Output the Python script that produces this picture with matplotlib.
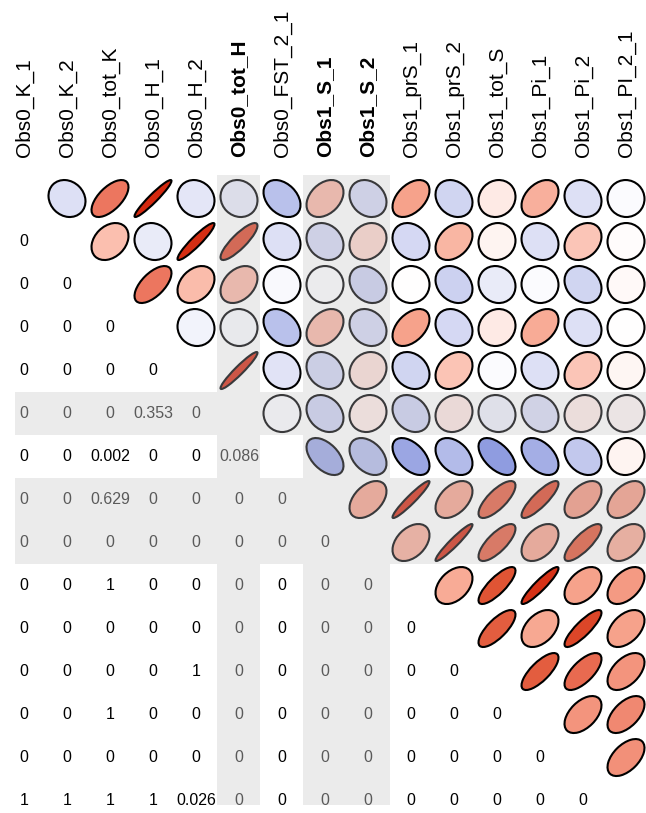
import numpy as np
import matplotlib
matplotlib.use('Agg')
import matplotlib.pyplot as plt
from matplotlib.patches import Ellipse, Rectangle
from matplotlib.colors import LinearSegmentedColormap, to_rgb

labels = ['Obs0_K_1', 'Obs0_K_2', 'Obs0_tot_K', 'Obs0_H_1', 'Obs0_H_2', 'Obs0_tot_H',
          'Obs0_FST_2_1', 'Obs1_S_1', 'Obs1_S_2', 'Obs1_prS_1', 'Obs1_prS_2',
          'Obs1_tot_S', 'Obs1_Pi_1', 'Obs1_Pi_2', 'Obs1_PI_2_1']
highlight = ['Obs0_tot_H', 'Obs1_S_1', 'Obs1_S_2']

# correlations above the diagonal: row i against columns i+1 ... end
corr_upper = [
    [-0.15, 0.62, 0.95, -0.12, -0.10, -0.35, 0.35, -0.20, 0.45, -0.22, 0.10, 0.38, -0.15, -0.02],
    [0.30, -0.10, 0.93, 0.85, -0.15, -0.20, 0.20, -0.20, 0.35, 0.05, -0.15, 0.27, 0.01],
    [0.62, 0.32, 0.35, -0.03, 0.00, -0.25, 0.00, -0.25, -0.10, -0.02, -0.22, 0.03],
    [-0.06, -0.02, -0.35, 0.35, -0.20, 0.45, -0.20, 0.10, 0.40, -0.15, 0.00],
    [0.95, -0.14, -0.22, 0.15, -0.22, 0.28, -0.02, -0.15, 0.27, 0.04],
    [-0.01, -0.25, 0.10, -0.25, 0.12, -0.08, -0.18, 0.10, 0.05],
    [-0.50, -0.38, -0.50, -0.38, -0.55, -0.45, -0.30, 0.05],
    [0.45, 0.95, 0.45, 0.75, 0.85, 0.50, 0.48],
    [0.40, 0.95, 0.75, 0.45, 0.80, 0.42],
    [0.40, 0.80, 0.92, 0.45, 0.48],
    [0.75, 0.42, 0.85, 0.45],
    [0.75, 0.68, 0.50],
    [0.50, 0.55],
    [0.52],
]

# p-values below the diagonal: row i against columns 0 ... i-1
p_lower = [
    [0],
    [0, 0],
    [0, 0, 0],
    [0, 0, 0, 0],
    [0, 0, 0, 0.353, 0],
    [0, 0, 0.002, 0, 0, 0.086],
    [0, 0, 0.629, 0, 0, 0, 0],
    [0, 0, 0, 0, 0, 0, 0, 0],
    [0, 0, 1, 0, 0, 0, 0, 0, 0],
    [0, 0, 0, 0, 0, 0, 0, 0, 0, 0],
    [0, 0, 0, 0, 1, 0, 0, 0, 0, 0, 0],
    [0, 0, 1, 0, 0, 0, 0, 0, 0, 0, 0, 0],
    [0, 0, 0, 0, 0, 0, 0, 0, 0, 0, 0, 0, 0],
    [1, 1, 1, 1, 0.026, 0, 0, 0, 0, 0, 0, 0, 0, 0],
]

n = len(labels)
hl = [labels.index(h) for h in highlight]

# blue - white - red scale, stops given as correlation values
stops = [(-1, '#3E52C7'), (-0.55, '#909CE0'), (-0.35, '#B9C1EB'), (-0.15, '#DEE0F5'),
         (0, '#FFFFFF'), (0.3, '#FBBFAF'), (0.45, '#F6A28B'), (0.62, '#EC7760'),
         (0.8, '#E05535'), (0.95, '#D42A10'), (1, '#CF2005')]
cmap = LinearSegmentedColormap.from_list('rw', [((v + 1) / 2, c) for v, c in stops])
bg = '#EBEBEB'
fog = np.array([190, 190, 196]) / 255


def mute(c):
    return tuple(0.7 * np.array(to_rgb(c)[:3]) + 0.3 * fog)


fig = plt.figure(figsize=(6.46, 8.13), dpi=100)
ax = fig.add_axes([0, 0, 1, (813 - 175) / 813])
ax.set_xlim(-0.558, 14.465)
ax.set_ylim(14.29, -0.547)
ax.axis('off')

# grey bands for highlighted variables
for k in hl:
    ax.add_patch(Rectangle((k - 0.5, -0.6), 1, 14.7, color=bg, lw=0, zorder=0))
    ax.add_patch(Rectangle((-0.21, k - 0.5), 15, 1, color=bg, lw=0, zorder=0))

for i in range(n):
    for j in range(n):
        grey = i in hl or j in hl
        if j > i:
            r = corr_upper[i][j - i - 1]
            a = 0.43 * np.sqrt(1 + abs(r))
            b = 0.43 * np.sqrt(1 - abs(r))
            fc = cmap((r + 1) / 2)
            ec = 'black'
            if grey:
                fc, ec = mute(fc), mute('black')
            ax.add_patch(Ellipse((j, i), 2 * a, 2 * b, angle=-45 if r >= 0 else 45,
                                 facecolor=fc, edgecolor=ec, lw=1.5, zorder=2))
        elif j < i:
            ax.text(j, i, f'{p_lower[i - 1][j]:g}', ha='center', va='center',
                    fontsize=11.5, family='Liberation Sans',
                    color='#5a5a5a' if grey else 'black', zorder=3)

for j, lab in enumerate(labels):
    ax.text(j, -0.965, lab, rotation=90, ha='center', va='bottom', fontsize=15,
            family='Liberation Sans', fontweight='bold' if lab in highlight else 'normal',
            clip_on=False)

fig.savefig('out.png', dpi=100)
